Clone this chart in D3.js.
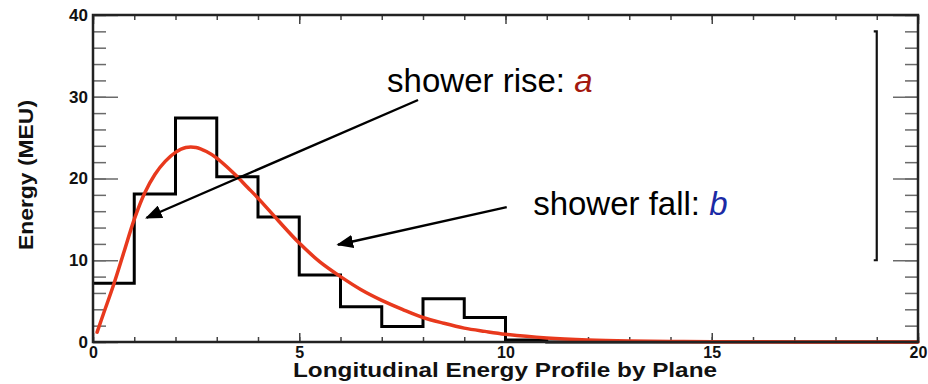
<!DOCTYPE html>
<head>
    <script src='https://cdn.jsdelivr.net/npm/d3@7/dist/d3.min.js'></script>
    <style>
        body { margin: 0; background: #fff; }
        text { font-family: "Liberation Sans", Arial, Helvetica, sans-serif; }
    </style>
</head>

<body>
<div id="chart"></div>
<script>
    // histogram: energy per plane, bins of width 1
    var binEdges = [0, 1, 2, 3, 4, 5, 6, 7, 8, 9, 10, 11, 12, 13, 14, 15, 16, 17, 18, 19, 20];
    var binValues = [7.2, 18.1, 27.4, 20.2, 15.3, 8.2, 4.3, 1.9, 5.3, 3.0, 0.25, 0, 0, 0, 0, 0, 0, 0, 0, 0];

    // fitted shower curve
    var fitX = [0.1, 0.25, 0.5, 0.75, 1.0, 1.25, 1.5, 1.75, 2.0, 2.25, 2.5, 2.75, 3.0, 3.25, 3.5, 3.75, 4.0, 4.5, 5.0, 5.5, 6.0, 6.5, 7.0, 7.5, 8.0, 8.5, 9.0, 9.5, 10, 11, 12, 13, 14, 15, 17, 20];
    var fitY = [1.2, 3.4, 7.0, 11.0, 15.0, 18.2, 20.5, 22.1, 23.2, 23.8, 23.8, 23.3, 22.5, 21.4, 20.2, 18.9, 17.6, 14.8, 12.1, 9.8, 8.0, 6.4, 5.1, 4.0, 3.0, 2.3, 1.7, 1.3, 0.95, 0.5, 0.25, 0.12, 0.06, 0.03, 0.01, 0];

    var xTicks = [0, 5, 10, 15, 20];
    var yTicks = [0, 10, 20, 30, 40];

    // vertical bar at the right side (x, low, high)
    var sideBar = [19, 10, 38];

    var marg_t = 15,
        marg_r = 10,
        marg_b = 42,
        marg_l = 93,
        width = 928 - marg_l - marg_r,
        height = 384 - marg_t - marg_b;

    var root = d3.select("#chart")
        .append("svg")
            .attr("width", 928)
            .attr("height", 384);

    var defs = root.append("defs");
    defs.append("marker")
        .attr("id", "head")
        .attr("viewBox", "0 0 10 8")
        .attr("refX", 9)
        .attr("refY", 4)
        .attr("markerWidth", 7)
        .attr("markerHeight", 5.6)
        .attr("markerUnits", "strokeWidth")
        .attr("orient", "auto")
        .append("path")
            .attr("d", "M0,0L10,4L0,8z")
            .attr("fill", "#000");

    var svg = root.append("g")
        .attr("transform", "translate(" + marg_l + "," + marg_t + ")");

    var x = d3.scaleLinear().domain([0, 20]).range([0, width]);
    var y = d3.scaleLinear().domain([0, 40]).range([height, 0]);

    // minor / major ticks on all four sides, pointing inward
    var tickCol = "#6a6a6a";
    function styleTicks(g, col) {
        g.select(".domain").remove();
        g.selectAll("line").attr("stroke", col).attr("stroke-width", 1.5);
    }
    svg.append("g")
        .call(d3.axisLeft(y).tickValues(d3.range(0, 41, 2)).tickSize(-13).tickFormat(""))
        .call(styleTicks, tickCol);
    svg.append("g")
        .attr("transform", "translate(" + width + ",0)")
        .call(d3.axisRight(y).tickValues(d3.range(0, 41, 2)).tickSize(-13).tickFormat(""))
        .call(styleTicks, tickCol);
    svg.append("g")
        .attr("transform", "translate(" + width + ",0)")
        .call(d3.axisRight(y).tickValues(yTicks).tickSize(-25).tickFormat(""))
        .call(styleTicks, tickCol);
    svg.append("g")
        .attr("transform", "translate(0," + height + ")")
        .call(d3.axisBottom(x).tickValues(d3.range(0, 21, 1)).tickSize(-5).tickFormat(""))
        .call(styleTicks, "#444");
    svg.append("g")
        .call(d3.axisTop(x).tickValues(d3.range(0, 21, 1)).tickSize(-5).tickFormat(""))
        .call(styleTicks, "#444");
    svg.append("g")
        .call(d3.axisTop(x).tickValues(xTicks).tickSize(-9).tickFormat(""))
        .call(styleTicks, "#444");

    // labelled axes
    var yAxis = svg.append("g")
        .call(d3.axisLeft(y).tickValues(yTicks).tickSize(-25).tickPadding(5));
    styleTicks(yAxis, tickCol);
    yAxis.selectAll("text")
        .attr("font-size", 17)
        .attr("font-weight", "bold")
        .attr("fill", "#111");

    var xAxis = svg.append("g")
        .attr("transform", "translate(0," + height + ")")
        .call(d3.axisBottom(x).tickValues(xTicks).tickSize(-9).tickPadding(5));
    styleTicks(xAxis, "#444");
    xAxis.selectAll("text")
        .attr("font-size", 16)
        .attr("font-weight", "bold")
        .attr("fill", "#111");

    // histogram as a step outline
    var stepPts = [];
    binValues.forEach(function(v, i) {
        stepPts.push([binEdges[i], v]);
        stepPts.push([binEdges[i + 1], v]);
    });
    svg.append("path")
        .datum(stepPts)
        .attr("fill", "none")
        .attr("stroke", "#000")
        .attr("stroke-width", 3)
        .attr("d", d3.line()
            .x(function(d) { return x(d[0]); })
            .y(function(d) { return y(d[1]); }));

    // fit curve
    svg.append("path")
        .datum(fitX.map(function(v, i) { return [v, fitY[i]]; }))
        .attr("fill", "none")
        .attr("stroke", "#e8391d")
        .attr("stroke-width", 3.5)
        .attr("stroke-linecap", "round")
        .attr("d", d3.line()
            .curve(d3.curveCatmullRom)
            .x(function(d) { return x(d[0]); })
            .y(function(d) { return y(d[1]); }));

    // frame
    svg.append("rect")
        .attr("width", width)
        .attr("height", height)
        .attr("fill", "none")
        .attr("stroke", "#222")
        .attr("stroke-width", 2.5);

    // side bar
    svg.append("path")
        .attr("fill", "none")
        .attr("stroke", "#111")
        .attr("stroke-width", 2.2)
        .attr("d", "M" + (x(sideBar[0]) - 3) + "," + y(sideBar[2]) +
                   "H" + x(sideBar[0]) + "V" + y(sideBar[1]) + "H" + (x(sideBar[0]) - 3));

    // axis titles
    svg.append("text")
        .attr("x", 505 - marg_l)
        .attr("y", height + 35)
        .attr("text-anchor", "middle")
        .attr("font-size", 21)
        .attr("font-weight", "bold")
        .attr("fill", "#111")
        .attr("textLength", 424)
        .attr("lengthAdjust", "spacingAndGlyphs")
        .text("Longitudinal Energy Profile by Plane");

    svg.append("text")
        .attr("transform", "translate(" + (33 - marg_l) + "," + (175 - marg_t) + ")rotate(-90)")
        .attr("text-anchor", "middle")
        .attr("font-size", 20)
        .attr("font-weight", "bold")
        .attr("fill", "#111")
        .attr("textLength", 150)
        .attr("lengthAdjust", "spacingAndGlyphs")
        .text("Energy (MEU)");

    // annotations (positions in data units)
    var arrows = [
        { from: [7.88, 29.6], to: [1.30, 15.2] },
        { from: [10.03, 16.5], to: [5.94, 11.9] }
    ];
    svg.selectAll(".arrow")
        .data(arrows)
        .enter().append("line")
            .attr("class", "arrow")
            .attr("x1", function(d) { return x(d.from[0]); })
            .attr("y1", function(d) { return y(d.from[1]); })
            .attr("x2", function(d) { return x(d.to[0]); })
            .attr("y2", function(d) { return y(d.to[1]); })
            .attr("stroke", "#000")
            .attr("stroke-width", 2.4)
            .attr("marker-end", "url(#head)");

    var notes = [
        { pos: [7.13, 30.6], label: "shower rise: ", sym: "a", col: "#a3180f" },
        { pos: [10.67, 15.5], label: "shower fall: ", sym: "b", col: "#1b2aa5" }
    ];
    notes.forEach(function(n) {
        var t = svg.append("text")
            .attr("x", x(n.pos[0]))
            .attr("y", y(n.pos[1]))
            .attr("font-size", 33)
            .attr("fill", "#000");
        t.append("tspan").text(n.label).style("white-space", "pre");
        t.append("tspan")
            .attr("fill", n.col)
            .attr("font-style", "italic")
            .text(n.sym);
    });
</script>
</body>
</html>
